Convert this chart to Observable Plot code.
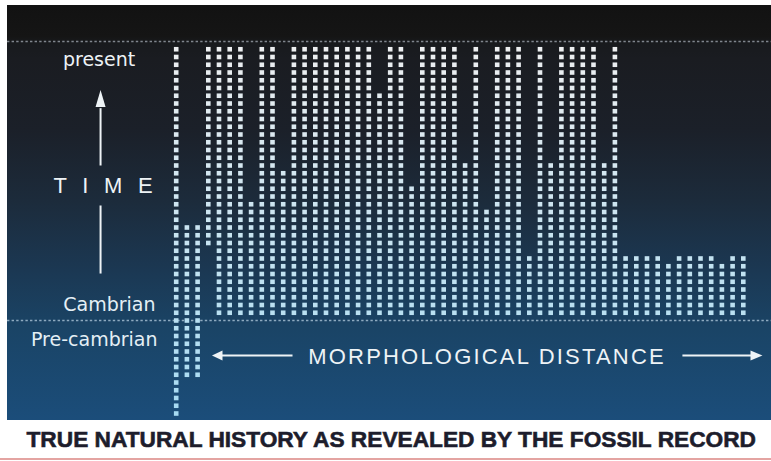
<!DOCTYPE html>
<html>
<head>
<meta charset="utf-8">
<script src="https://cdn.jsdelivr.net/npm/d3@7"></script>
<script src="https://cdn.jsdelivr.net/npm/@observablehq/plot@0.6"></script>
<style>
  html, body { margin: 0; padding: 0; background: #ffffff; }
  #wrap { position: relative; width: 771px; height: 461px; overflow: hidden; background: #ffffff; }
  #chart { position: absolute; left: 7px; top: 5px; }
  #caption {
    position: absolute; left: 0; top: 427.6px; width: 771px; box-sizing: border-box;
    padding-left: 26.5px; white-space: nowrap;
    font: bold 22.7px/22.7px "Liberation Sans", Arial, sans-serif; color: #1d1d2c;
    -webkit-text-stroke: 0.6px #1d1d2c;
  }
  #redline { position: absolute; left: 0; top: 458px; width: 771px; height: 2px; background: #e4a4a2; }
</style>
</head>
<body>
<div id="wrap">
  <div id="chart"></div>
  <div id="caption">TRUE NATURAL HISTORY AS REVEALED BY THE FOSSIL RECORD</div>
  <div id="redline"></div>
</div>
<script>
// ---- data: one entry per lineage (column), in time rows (0 = Cambrian, 35 = present)
const lineages = d3.range(1, 55);
const firstRow = [
  -12, -7, -7, 10, 1, 1, 1, 1, 1, 1,
  1, 1, 1, 1, 1, 1, 1, 1, 1, 1,
  1, 1, 1, 1, 1, 1, 1, 1, 1, 1,
  1, 1, 1, 1, 1, 1, 1, 1, 1, 1,
  1, 1, 1, 1, 1, 1, 1, 1, 1, 1,
  1, 1, 1, 1
];
const lastRow = [
  35, 12, 12, 35, 35, 35, 35, 15, 35, 35,
  19, 35, 35, 35, 35, 35, 35, 35, 35, 29,
  35, 35, 17, 35, 35, 35, 35, 20, 35, 14,
  35, 35, 35, 8, 35, 20, 35, 35, 35, 35,
  20, 35, 8, 8, 8, 8, 7, 8, 8, 8,
  8, 7, 8, 8
];
const boundaryRows = [36, 0];   // present line, Cambrian line
const labelPresent = ["present"];
const labelTime = ["T I M E"];
const labelCambrian = ["Cambrian"];
const labelPre = ["Pre-cambrian"];
const labelMorph = ["MORPHOLOGICAL DISTANCE"];

const dots = [];
lineages.forEach((id, i) => {
  for (let r = firstRow[i]; r <= lastRow[i]; r++) dots.push({col: i, row: r, lineage: id});
});

const arrowLines = [
  {x1: -7.07, y1: 20.0, x2: -7.07, y2: 27.4},
  {x1: -7.07, y1: 14.84, x2: -7.07, y2: 6.06},
  {x1: 4.2, y1: -4.52, x2: 10.87, y2: -4.52},
  {x1: 47.31, y1: -4.52, x2: 53.8, y2: -4.52}
];
const arrowHeads = [
  {x: -7.07, y: 27.55, rot: 0, len: 24},
  {x: 4.33, y: -4.52, rot: -90, len: 15},
  {x: 53.67, y: -4.52, rot: 90, len: 17}
];

const white = "#eef3f6";
const svg = Plot.plot({
  width: 764,
  height: 415,
  margin: 0,
  style: {
    background: "linear-gradient(to bottom, #121212 0%, #151515 7.6%, #181a1d 9%, #1a1c21 13%, #1b2029 30%, #1c2b3b 47%, #1b3853 64%, #1a4466 78%, #1b4d7a 100%)",
    overflow: "visible"
  },
  x: {domain: [0, 53], range: [168.7, 735.8], axis: null},
  y: {domain: [0, 35], range: [315, 43.75], axis: null},
  color: {type: "linear", domain: [-12, 35], range: ["#a6daf2", "#eceef0"]},
  marks: [
    Plot.ruleY([boundaryRows[0]], {stroke: "#80868e", strokeWidth: 1.6, strokeDasharray: "2.4,2.2"}),
    Plot.ruleY([boundaryRows[1]], {stroke: "#8eaac0", strokeWidth: 1.6, strokeDasharray: "2.4,2.2"}),
    Plot.dot(dots, {x: "col", y: "row", fill: "row", symbol: "square", r: 2.6}),
    Plot.link(arrowLines, {x1: "x1", y1: "y1", x2: "x2", y2: "y2", stroke: white, strokeWidth: 2}),
    Plot.vector(arrowHeads, {x: "x", y: "y", rotate: "rot", length: "len", r: 5, shape: "spike", anchor: "start", fill: white, stroke: "none"}),
    Plot.text(labelPresent, {x: -7.21, y: 32.9, text: d => d, fill: white, fontSize: 19, fontFamily: "DejaVu Sans", textAnchor: "middle", lineAnchor: "bottom"}),
    Plot.text(labelTime, {x: -6.61, y: 16.39, text: d => d, fill: white, fontSize: 22, fontFamily: "Liberation Sans", textAnchor: "middle", lineAnchor: "bottom"}),
    Plot.text(labelCambrian, {x: -1.93, y: 1.29, text: d => d, fill: "#e4eff5", fontSize: 19, fontFamily: "DejaVu Sans", textAnchor: "end", lineAnchor: "bottom"}),
    Plot.text(labelPre, {x: -1.75, y: -3.35, text: d => d, fill: "#e4eff5", fontSize: 19, fontFamily: "DejaVu Sans", textAnchor: "end", lineAnchor: "bottom"}),
    Plot.text(labelMorph, {x: 29.05, y: -5.55, text: d => d, fill: white, fontSize: 22, fontFamily: "Liberation Sans", textAnchor: "middle", lineAnchor: "bottom"})
  ]
});
d3.select(svg).selectAll("text").each(function () {
  const t = this.textContent;
  if (t === "T I M E") this.setAttribute("letter-spacing", "4.8");
  if (t === "MORPHOLOGICAL DISTANCE") this.setAttribute("letter-spacing", "2.2");
});
document.getElementById("chart").appendChild(svg);
</script>
</body>
</html>
